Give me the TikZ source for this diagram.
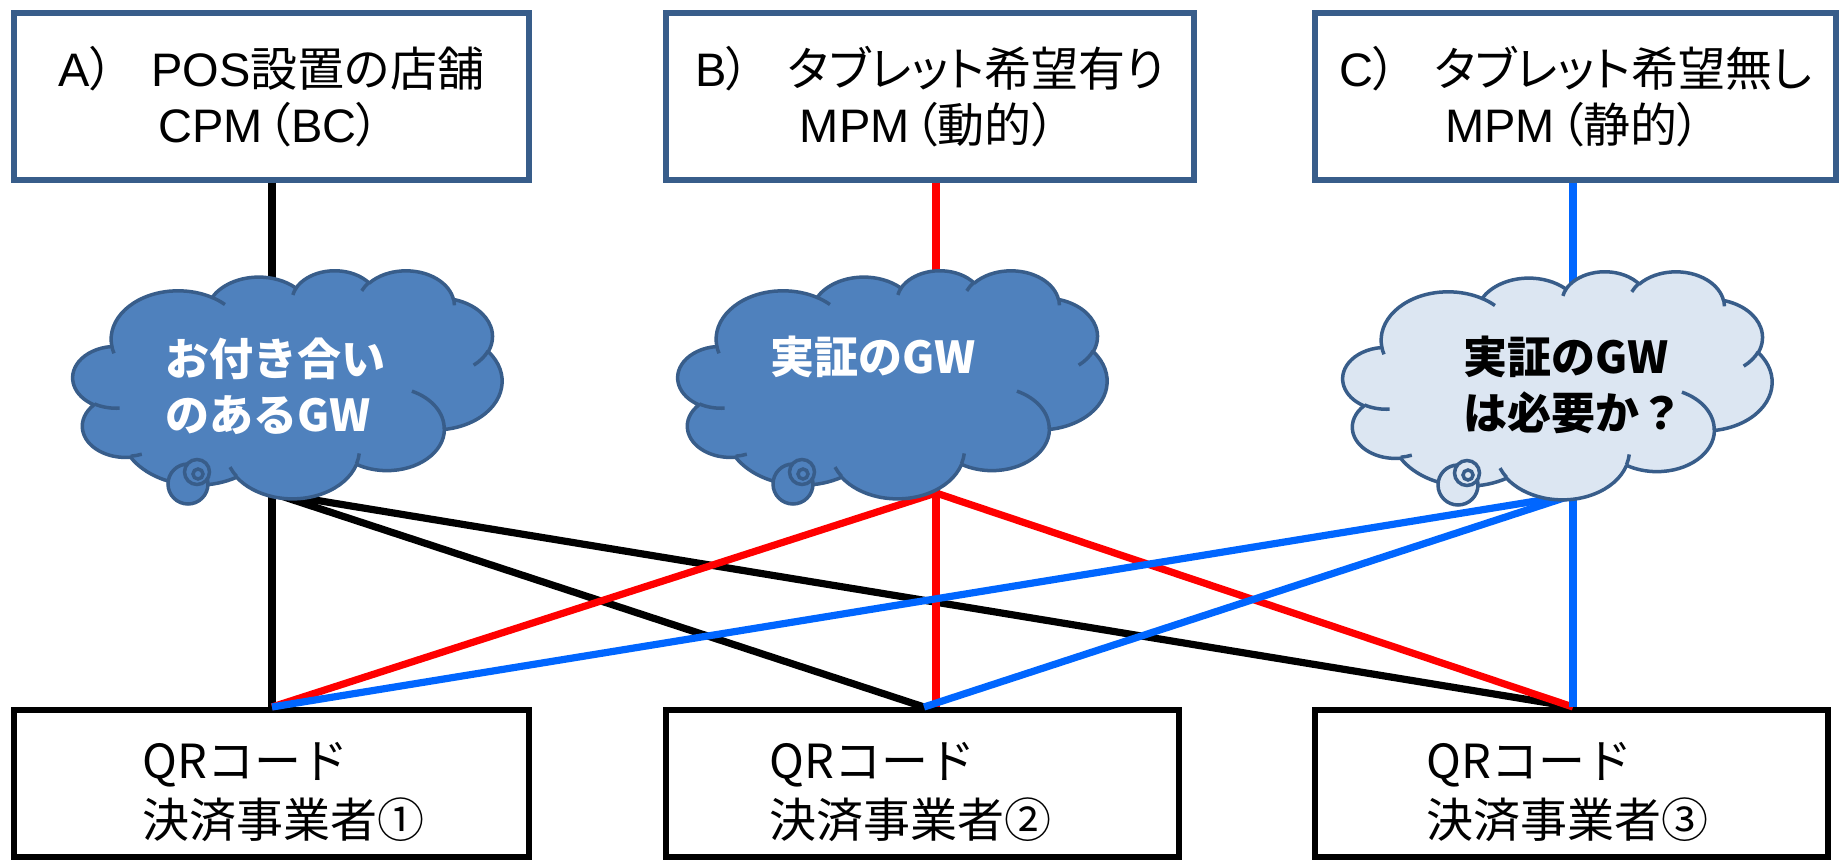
\documentclass[tikz,border=0pt]{standalone}
\usepackage{fontspec}
\setmainfont{Noto Sans CJK JP}
\newfontfamily\topfont[RawFeature=+palt]{Noto Sans CJK JP}
\newfontfamily\lat{Liberation Sans}
\definecolor{boxblue}{HTML}{385D8A}
\definecolor{cloudfill}{HTML}{4F81BD}
\definecolor{cloudlight}{HTML}{DCE6F2}
\definecolor{cloudline}{HTML}{385D8A}
\definecolor{lnred}{HTML}{FF0000}
\definecolor{lnblue}{HTML}{0066FF}
\newcommand{\pptcloud}[3]{%
\begin{scope}[shift={(#1,#2)}, x=0.4965pt, y=-0.2639pt]
\path[draw=cloudline, line width=1.75pt, fill=#3, line join=round] (39.00,143.70)
 arc[start angle=-187.746, end angle=-59.634, x radius=67.53, y radius=91.90]
 arc[start angle=-152.019, end angle=-45.426, x radius=53.33, y radius=72.67]
 arc[start angle=-153.480, end angle=-37.321, x radius=43.65, y radius=59.45]
 arc[start angle=-139.690, end angle=-10.211, x radius=48.57, y radius=65.95]
 arc[start angle=-74.768, end angle=23.212, x radius=53.33, y radius=72.73]
 arc[start angle=-37.525, end angle=81.863, x radius=67.75, y radius=92.20]
 arc[start angle=0.460, end angle=121.98, x radius=57.85, y radius=78.67]
 arc[start angle=16.845, end angle=146.253, x radius=67.52, y radius=92.15]
 arc[start angle=58.988, end angle=150.200, x radius=77.20, y radius=105.43]
 arc[start angle=-276.693, end angle=-136.876, x radius=43.60, y radius=59.18]
 arc[start angle=-239.65, end angle=-95.888, x radius=43.45, y radius=59.45]
 -- cycle;
\end{scope}
\begin{scope}[shift={(#1,#2)}]
\path[draw=cloudline, line width=1.75pt, fill=#3] (115,214) circle[radius=20];
\path[draw=cloudline, line width=1.75pt, fill=#3] (124,202) circle[radius=12.5];
\path[draw=cloudline, line width=1.75pt, fill=#3] (125,204) circle[radius=5];
\end{scope}
\begin{scope}[shift={(#1,#2)}, x=0.4965pt, y=-0.2639pt]
\path[draw=cloudline, line width=1.75pt]
 (46.93,261.77) arc[start angle=85.546, end angle=120.35, x radius=43.45, y radius=59.45]
 (69.28,348.99) arc[start angle=68.24, end angle=83.307, x radius=43.60, y radius=59.18]
 (164.78,390.90) arc[start angle=146.253, end angle=158.475, x radius=67.52, y radius=92.15]
 (288.27,347.51) arc[start angle=4.738, end angle=16.845, x radius=67.52, y radius=92.15]
 (341.29,229.54) arc[start angle=-64.025, end angle=0.460, x radius=57.85, y radius=78.67]
 (417.98,153.54) arc[start angle=23.212, end angle=49.646, x radius=53.33, y radius=72.73]
 (383.24,54.26) arc[start angle=-10.211, end angle=0.821, x radius=48.57, y radius=65.95]
 (290.78,39.52) arc[start angle=-156.282, end angle=-139.690, x radius=48.57, y radius=65.95]
 (221.41,47.20) arc[start angle=-167.726, end angle=-153.480, x radius=43.65, y radius=59.45]
 (140.00,51.92) arc[start angle=-59.634, end angle=-45.709, x radius=67.53, y radius=91.90]
 (41.27,157.89) arc[start angle=163.194, end angle=172.254, x radius=67.53, y radius=91.90];
\end{scope}}
\newcommand{\gap}{\hspace{0.8em}}
\newcommand{\lp}{\kern0.1em（}
\newcommand{\rp}{）\kern0.1em}
\begin{document}
\begin{tikzpicture}[x=0.5pt,y=-0.5pt,
  topbox/.style={draw=boxblue, line width=2.75pt, fill=white, align=center, inner sep=0pt,
    minimum height=83.5pt, font=\topfont\fontsize{23.5pt}{28pt}\selectfont},
  qbox/.style={draw=black, line width=3pt, fill=white, minimum height=73.5pt},
  qtext/.style={anchor=west, align=left, inner sep=0pt, font=\fontsize{23.5pt}{29.5pt}\selectfont},
  gwtext/.style={anchor=west, align=left, inner sep=0pt, font=\fontsize{22pt}{28pt}\selectfont\bfseries},
  conn/.style={line width=3.6pt}]
\useasboundingbox[fill=white] (0,0) rectangle (1841,860);
% top boxes
\node[topbox, minimum width=257.5pt] (A) at (271.5,96.5) {{\lat A}）\gap{\lat POS}設置の店舗\\{\lat CPM}\lp{\lat BC}\rp};
\node[topbox, minimum width=264pt] (B) at (930,96.5) {{\lat B}）\gap タブレット希望有り\\{\lat MPM}\lp 動的\rp};
\node[topbox, minimum width=260.5pt] (C) at (1575.5,96.5) {{\lat C}）\gap タブレット希望無し\\{\lat MPM}\lp 静的\rp};
% bottom boxes
\node[qbox, minimum width=257.5pt] (q1) at (271.5,783.5) {};
\node[qbox, minimum width=256.5pt] (q2) at (922.5,783.5) {};
\node[qbox, minimum width=256.5pt] (q3) at (1571.5,783.5) {};
\node[qtext] (t1) at (142,792) {QRコード\\決済事業者①};
\node[qtext] (t2) at (769,792) {QRコード\\決済事業者②};
\node[qtext] (t3) at (1426,792) {QRコード\\決済事業者③};
% junction points at the cloud bottoms
\coordinate (ga) at (272,493);
\coordinate (gb) at (936,493);
\coordinate (gc) at (1573,495);
\coordinate (p2) at (924,709);
% connectors
\draw[conn, black] (A.south -| ga) -- (q1.north -| ga);
\draw[conn, black] (ga) -- (q2.north -| p2);
\draw[conn, black] (ga) -- (q3.north -| gc);
\draw[conn, lnred] (B.south -| gb) -- (q2.north -| gb);
\draw[conn, lnred] (gb) -- (q1.north -| ga);
\draw[conn, lnred] (gb) -- (q3.north -| gc);
\draw[conn, lnblue] (C.south -| gc) -- (q3.north -| gc);
\draw[conn, lnblue] (gc) -- (q1.north -| ga);
\draw[conn, lnblue] (gc) -- (q2.north -| p2);
% clouds
\pptcloud{73}{270}{cloudfill}
\pptcloud{678}{270}{cloudfill}
\pptcloud{1343}{271}{cloudlight}
\node[gwtext, text=white] (gwa) at (165,386) {お付き合い\\のあるGW};
\node[gwtext, text=white] (gwb) at (770,357) {実証のGW};
\node[gwtext, text=black] (gwc) at (1463,385) {実証のGW\\は必要か？};
\end{tikzpicture}
\end{document}
